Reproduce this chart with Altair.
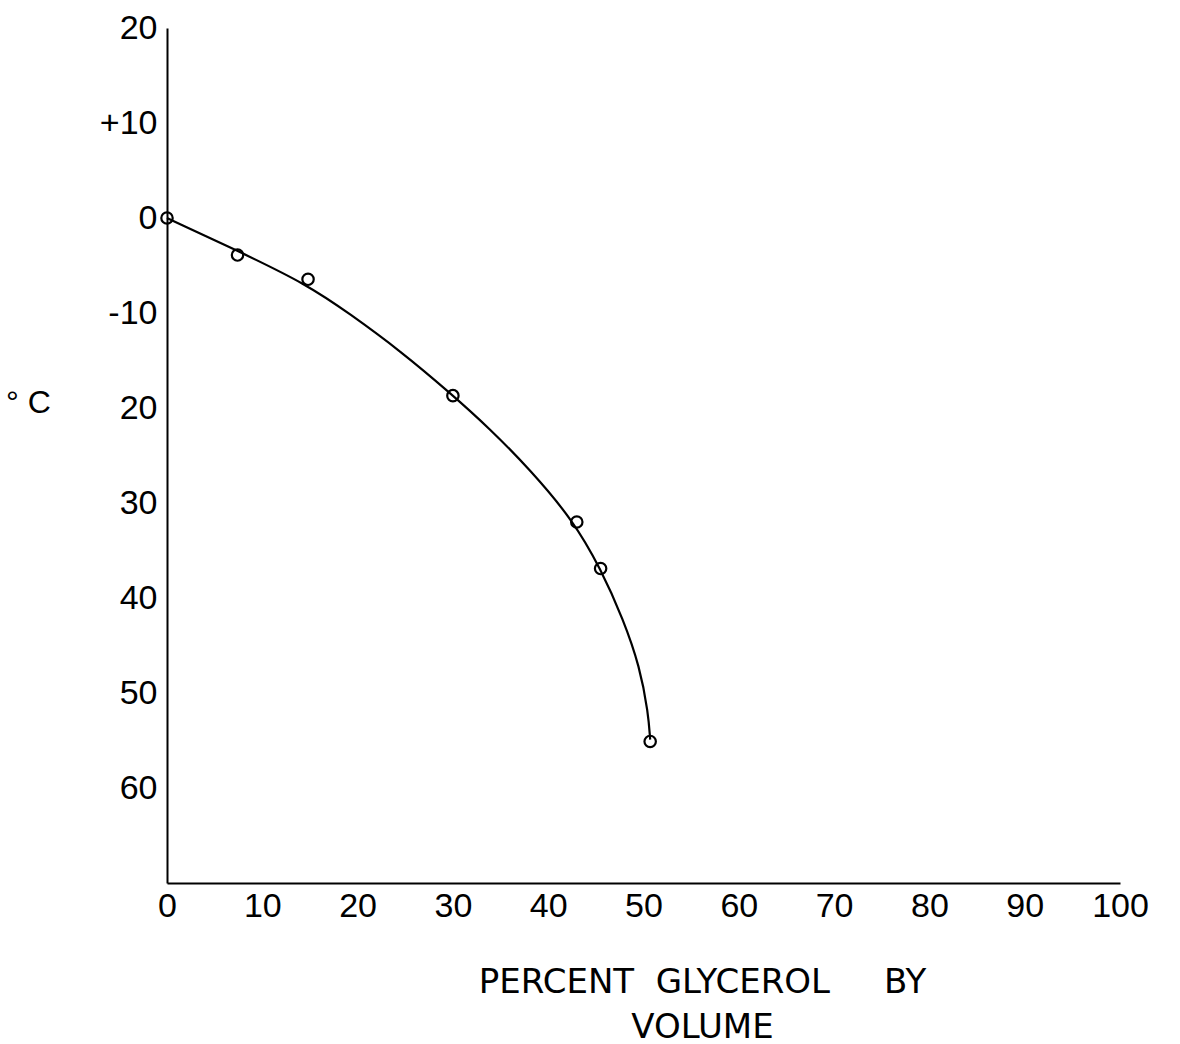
import altair as alt
import pandas as pd

# Measured data points (open circles)
pt_x = [0.0, 7.4, 14.8, 30.0, 43.0, 45.5, 50.7]
pt_y = [0.0, -3.9, -6.45, -18.7, -32.0, -36.9, -55.1]

# Hand-drawn fitted curve
cv_x = [0.0, 7.3, 14.7, 19.2, 24.5, 29.7, 33.9, 38.1, 42.6, 45.5, 47.9, 49.6, 50.5, 50.7]
cv_y = [0.0, -3.4, -7.0, -10.1, -14.0, -18.4, -22.2, -26.5, -31.8, -36.9, -42.3, -47.2, -52.1, -54.9]

x_ticks = [0, 10, 20, 30, 40, 50, 60, 70, 80, 90, 100]
y_ticks = [20, 10, 0, -10, -20, -30, -40, -50, -60]
y_tick_labels = ["20", "+10", "0", "-10", "20", "30", "40", "50", "60"]

NB = "\u00a0"
x_title = [f"PERCENT{NB * 2}GLYCEROL{NB * 5}BY", "VOLUME"]
y_title = f"°{NB}C"

pts = pd.DataFrame({"x": pt_x, "y": pt_y})
curve = pd.DataFrame({"x": cv_x, "y": cv_y, "order": list(range(len(cv_x)))})

label_expr = "''"
for v, lab in reversed(list(zip(y_ticks, y_tick_labels))):
    label_expr = f"datum.value == {v} ? '{lab}' : ({label_expr})"

FONT = "Liberation Sans"
TFONT = "DejaVu Sans"

x_enc = alt.X(
    "x:Q",
    scale=alt.Scale(domain=[0, 100], nice=False, zero=False),
    axis=alt.Axis(
        values=x_ticks,
        title=x_title,
        ticks=False,
        grid=False,
        domainColor="black",
        domainWidth=2,
        labelFont=FONT,
        labelFontSize=34,
        labelColor="black",
        labelPadding=6,
        labelBaseline="top",
        labelFlush=False,
        titleFont=TFONT,
        titleFontSize=34,
        titleFontWeight="normal",
        titleColor="black",
        titleAnchor="start",
        titleAlign="center",
        titleBaseline="top",
        titleX=535,
        titleY=82,
        titleLineHeight=45,
    ),
)

y_enc = alt.Y(
    "y:Q",
    scale=alt.Scale(domain=[-70, 20], nice=False, zero=False),
    axis=alt.Axis(
        values=y_ticks,
        labelExpr=label_expr,
        title=y_title,
        ticks=False,
        grid=False,
        domainColor="black",
        domainWidth=2,
        labelFont=FONT,
        labelFontSize=34,
        labelColor="black",
        labelPadding=10,
        labelFlush=False,
        titleFont=FONT,
        titleFontSize=32,
        titleFontWeight="normal",
        titleColor="black",
        titleAngle=0,
        titleAlign="center",
        titleBaseline="middle",
        titleAnchor="start",
        titleX=-139,
        titleY=374,
    ),
)

line = alt.Chart(curve).mark_line(
    color="black", strokeWidth=2.2, interpolate="basis"
).encode(x=x_enc, y=y_enc, order="order:Q")

dots = alt.Chart(pts).mark_point(
    shape="circle", filled=False, color="black", size=130, strokeWidth=2.2, opacity=1
).encode(x="x:Q", y="y:Q")

chart = (
    alt.layer(line, dots)
    .properties(
        width=953,
        height=855,
        padding={"left": 167, "top": 28, "right": 60, "bottom": 161},
        autosize=alt.AutoSizeParams(type="none"),
        background="white",
    )
    .configure_view(stroke=None)
)

chart.save("out.html", embed_options={"renderer": "svg", "actions": False})
